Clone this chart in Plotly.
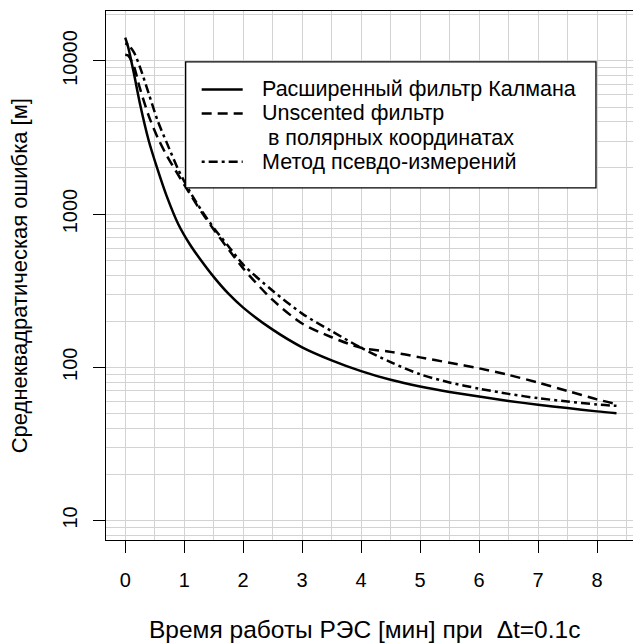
import plotly.graph_objects as go

# ---- data ----
t_min = [0, 0.05, 0.15, 0.25, 0.4, 0.55, 0.7, 0.9, 1.1, 1.3, 1.5, 1.75, 2.0, 2.5,
         3.0, 3.5, 4.0, 4.5, 5.0, 5.5, 6.0, 6.5, 7.0, 7.5, 8.0, 8.33]
ekf = [14200, 12300, 8170, 5250, 3000, 1950, 1320, 859, 631, 490, 389, 302, 245, 176,
       135, 111, 94.4, 82.8, 74.8, 68.9, 64.3, 60.3, 56.9, 54.1, 51.5, 50.1]
ukf_polar = [10990, 10840, 9120, 6610, 4365, 3160, 2427, 1800, 1349, 1023, 794, 589, 442, 275,
             193, 157, 134, 126, 116, 107, 98.4, 89.1, 79.4, 70, 61.7, 57.5]
pseudo = [13030, 12740, 11350, 9120, 6100, 4070, 2950, 1950, 1396, 1047, 813, 617, 468, 316,
          224, 172, 134, 108, 90, 79.5, 72.5, 67, 62.8, 59.7, 57.1, 56]

series_names = ["Расширенный фильтр Калмана",
                "Unscented фильтр",
                "Метод псевдо-измерений"]
legend_extra = " в полярных координатах"
x_ticks = [0, 1, 2, 3, 4, 5, 6, 7, 8]
y_ticks = [10, 100, 1000, 10000]
y_ticklabels = ["10", "100", "1000", "10000"]
x_title = "Время работы РЭС [мин] при\u00a0\u00a0Δt=0.1с"
y_title = "Среднеквадратическая ошибка [м]"

FONT = "Liberation Sans, Arial, Helvetica, sans-serif"
W, H = 633, 644
L, R_EDGE, T, B = 106.4, 633, 11, 540.5

dashes = ["solid", "10px,6px", "3px,4px,9px,4px"]
ys = [ekf, ukf_polar, pseudo]

fig = go.Figure()
for name, y, d in zip(series_names, ys, dashes):
    fig.add_trace(go.Scatter(x=t_min, y=y, mode="lines", name=name,
                             line=dict(color="black", width=2.5, dash=d, shape="spline",
                                       smoothing=0.8),
                             showlegend=False))

y_minor = [m * 10 ** k for k in range(0, 5) for m in range(2, 10)]
x_minor = [i + 0.5 for i in range(0, 9)]

fig.update_layout(
    width=W, height=H,
    margin=dict(l=L, r=W - R_EDGE, t=T, b=H - B, pad=0),
    paper_bgcolor="white", plot_bgcolor="white",
    font=dict(family=FONT, size=20, color="black"),
    xaxis=dict(range=[-0.326, 8.61], tickvals=x_ticks, ticktext=[str(v) for v in x_ticks],
               showgrid=True, gridcolor="#d3d3d3", gridwidth=1,
               minor=dict(tickvals=x_minor, showgrid=True, gridcolor="#d3d3d3", gridwidth=1, ticklen=0),
               showline=True, linecolor="black", linewidth=1.3, mirror=True,
               ticks="outside", ticklen=12, tickwidth=1.3, tickcolor="black",
               ticklabelstandoff=10,
               zeroline=False, tickfont=dict(size=20)),
    yaxis=dict(type="log", range=[0.872, 4.326], tickvals=y_ticks, ticktext=y_ticklabels,
               showgrid=True, gridcolor="#d3d3d3", gridwidth=1,
               minor=dict(tickvals=y_minor, showgrid=True, gridcolor="#d3d3d3", gridwidth=1, ticklen=0),
               showline=True, linecolor="black", linewidth=1.3, mirror=False,
               ticks="outside", ticklen=12, tickwidth=1.3, tickcolor="black",
               ticklabelstandoff=8,
               tickangle=-90, zeroline=False, tickfont=dict(size=20)),
    showlegend=False,
)

def px(xp):
    return (xp - L) / (R_EDGE - L)

def py(yp):
    return (B - yp) / (B - T)

shapes = [dict(type="rect", xref="paper", yref="paper",
               x0=px(186), x1=px(596), y0=py(188), y1=py(62),
               line=dict(color="black", width=1.3), fillcolor="white", layer="above")]
annotations = []
rows = [89.5, 113.5, 162]
LEG_FS = 21.5
for i, (name, d) in enumerate(zip(series_names, dashes)):
    shapes.append(dict(type="line", xref="paper", yref="paper",
                       x0=px(202), x1=px(243), y0=py(rows[i]), y1=py(rows[i]),
                       line=dict(color="black", width=2.5, dash=d), layer="above"))
    annotations.append(dict(text=name, xref="paper", yref="paper", x=px(260), y=py(rows[i]),
                            xanchor="left", yanchor="middle", showarrow=False,
                            font=dict(size=LEG_FS)))
annotations.append(dict(text=legend_extra.replace(" ", "\u00a0"), xref="paper", yref="paper",
                        x=px(260), y=py(138), xanchor="left", yanchor="middle",
                        showarrow=False, font=dict(size=LEG_FS)))
annotations.append(dict(text=x_title, xref="paper", yref="paper", x=px(365), y=py(630),
                        xanchor="center", yanchor="middle", showarrow=False, font=dict(size=24.5)))
annotations.append(dict(text=y_title, xref="paper", yref="paper", x=px(20), y=py(276),
                        xanchor="center", yanchor="middle", textangle=-90, showarrow=False,
                        font=dict(size=22)))
fig.update_layout(shapes=shapes, annotations=annotations)

fig.write_html("out.html")
